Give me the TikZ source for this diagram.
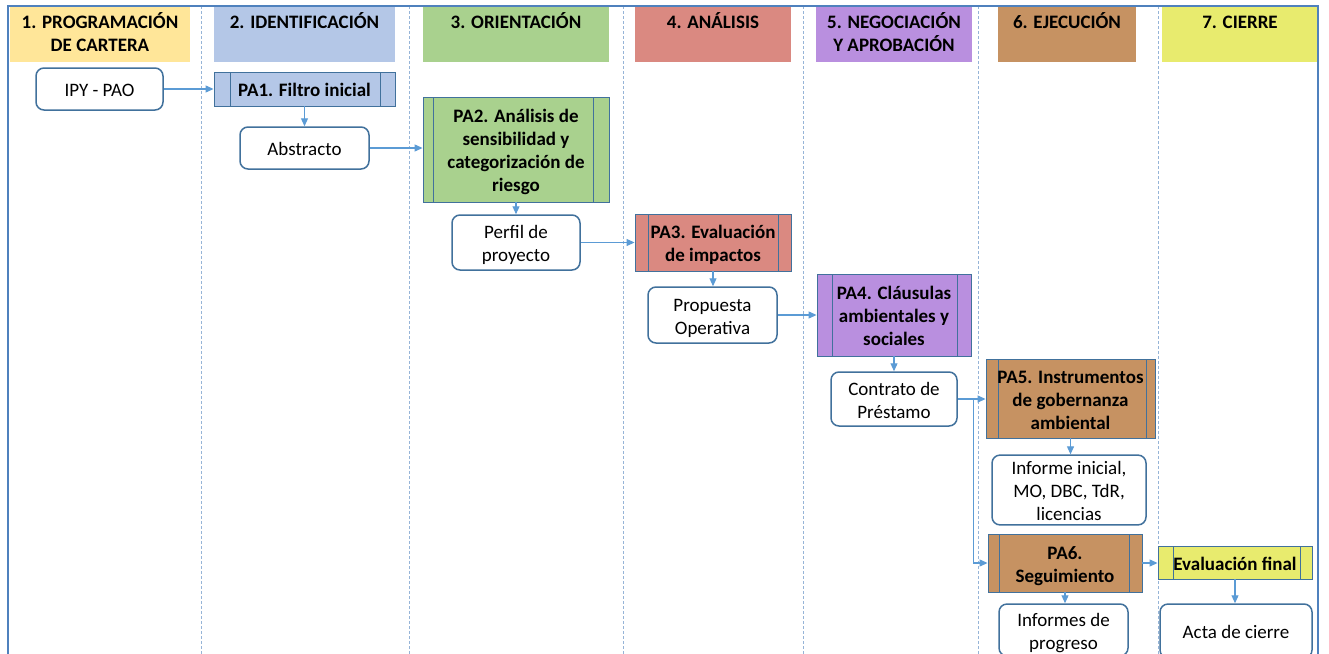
\documentclass[tikz,border=0pt]{standalone}
\usepackage{fontspec}
\setmainfont{Carlito}
\usetikzlibrary{arrows.meta,calc}
\definecolor{frameblue}{RGB}{79,129,189}
\definecolor{boxline}{RGB}{65,113,156}
\definecolor{arrowblue}{RGB}{91,155,213}
\definecolor{sepcol}{RGB}{150,180,215}
\definecolor{cOne}{RGB}{255,230,153}
\definecolor{cTwo}{RGB}{180,199,231}
\definecolor{cThree}{RGB}{169,209,142}
\definecolor{cFour}{RGB}{218,137,129}
\definecolor{cFive}{RGB}{185,143,223}
\definecolor{cSix}{RGB}{198,146,98}
\definecolor{cSeven}{RGB}{232,235,110}
\newcommand\wt{\rule{0pt}{19.5pt}}
\newcommand\wb{\rule[-4.3pt]{0pt}{4.3pt}}
\tikzset{
  every node/.style={font=\fontsize{19}{23}\selectfont, inner sep=0pt},
  header/.style={fill=#1, draw=none, minimum height=56pt},
  headtext/.style={anchor=north, align=center, font=\fontsize{19}{23}\selectfont\bfseries},
  docbox/.style 2 args={draw=boxline, line width=1.5pt, rounded corners=8pt, fill=white,
     minimum width=#1, minimum height=#2, align=center},
  procbox/.style n args={5}{draw=boxline, line width=0.9pt, fill=#1, minimum width=#2, minimum height=#3,
     align=center, font=\fontsize{19}{23}\selectfont\bfseries,
     path picture={\draw[boxline, line width=0.9pt]
        ([xshift=#4]path picture bounding box.north west) -- ([xshift=#4]path picture bounding box.south west)
        ([xshift=-#5]path picture bounding box.north east) -- ([xshift=-#5]path picture bounding box.south east);}},
  arr/.style={draw=arrowblue, line width=1.1pt, -{Triangle[length=8pt,width=7pt]}},
  sep/.style={draw=sepcol, line width=0.9pt, dash pattern=on 3pt off 2pt},
  frame/.style={draw=frameblue, line width=1.8pt}
}
\begin{document}
\begin{tikzpicture}[x=1pt,y=-1pt]
\useasboundingbox (0,0) rectangle (1329,653);
\clip (0,0) rectangle (1329,653);
\fill[white] (0,0) rectangle (1329,653);
% header bands
\node[header=cOne, minimum width=180pt] (h1) at (100,34) {};
\node[header=cTwo, minimum width=181pt] (h2) at (304.5,34) {};
\node[header=cThree, minimum width=186pt] (h3) at (516,34) {};
\node[header=cFour, minimum width=156pt] (h4) at (713,34) {};
\node[header=cFive, minimum width=156pt] (h5) at (894,34) {};
\node[header=cSix, minimum width=138pt] (h6) at (1067,34) {};
\node[header=cSeven, minimum width=156pt] (h7) at (1240,34) {};
% header texts
\node[headtext] (t1) at (100,9) {\wt 1. PROGRAMACIÓN\\DE CARTERA\wb};
\node[headtext] (t2) at (304.5,9) {\wt 2. IDENTIFICACIÓN\wb};
\node[headtext] (t3) at (516,9) {\wt 3. ORIENTACIÓN\wb};
\node[headtext] (t4) at (713,9) {\wt 4. ANÁLISIS\wb};
\node[headtext] (t5) at (894,9) {\wt 5. NEGOCIACIÓN\\Y APROBACIÓN\wb};
\node[headtext] (t6) at (1067,9) {\wt 6. EJECUCIÓN\wb};
\node[headtext] (t7) at (1240,9) {\wt 7. CIERRE\wb};
% separators
\foreach \sx in {201,409,623,803,978,1158} \draw[sep] (\sx,6) -- (\sx,660);
% frame
\draw[frame] (8,700) -- (8,6) -- (1318,6) -- (1318,700);
% nodes
\node[docbox={127pt}{42pt}] (ipy) at (99.5,89) {\wt IPY - PAO\wb};
\node[procbox={cTwo}{181pt}{34pt}{16pt}{15pt}] (pa1) at (304.5,89) {\wt PA1. Filtro inicial\wb};
\node[docbox={129pt}{42pt}] (abs) at (304.5,148) {\wt Abstracto\wb};
\node[procbox={cThree}{186pt}{105pt}{10pt}{16pt}] (pa2) at (516,149.5) {\wt PA2. Análisis de\\sensibilidad y\\categorización de\\riesgo\wb};
\node[docbox={128pt}{55pt}] (per) at (516,242.5) {\wt Perfil de\\proyecto\wb};
\node[procbox={cFour}{156pt}{57pt}{13pt}{13pt}] (pa3) at (713,242.5) {\wt PA3. Evaluación\\de impactos\wb};
\node[docbox={129pt}{56pt}] (pro) at (712.5,315) {\wt Propuesta\\Operativa\wb};
\node[procbox={cFive}{154pt}{82pt}{15pt}{14pt}] (pa4) at (894,315) {\wt PA4. Cláusulas\\ambientales y\\sociales\wb};
\node[docbox={126pt}{54pt}] (con) at (894,399) {\wt Contrato de\\Préstamo\wb};
\node[procbox={cSix}{169pt}{79pt}{12pt}{9pt}] (pa5) at (1070.5,398.5) {\wt PA5. Instrumentos\\de gobernanza\\ambiental\wb};
\node[docbox={154pt}{66pt}] (inf) at (1069,490) {\wt Informe inicial,\\MO, DBC, TdR,\\licencias\wb};
\node[procbox={cSix}{154pt}{58pt}{11pt}{13pt}] (pa6) at (1065,563) {\wt PA6.\\Seguimiento\wb};
\node[procbox={cSeven}{154pt}{33pt}{15pt}{12pt}] (eva) at (1235,562.5) {\wt Evaluación final\wb};
\node[docbox={129pt}{52pt}] (prg) at (1063.5,630) {\wt Informes de\\progreso\wb};
\node[docbox={152pt}{54pt}] (act) at (1236,631) {\wt Acta de cierre\wb};
% connectors
\draw[arr] (ipy.east) -- (pa1.west);
\draw[arr] (pa1.south) -- (abs.north);
\draw[arr] (abs.east) -- (abs.east -| pa2.west);
\draw[arr] (pa2.south) -- (per.north);
\draw[arr] (per.east) -- (pa3.west);
\draw[arr] (pa3.south) -- (pa3.south |- pro.north);
\draw[arr] (pro.east) -- (pa4.west);
\draw[arr] (pa4.south) -- (con.north);
\draw[arr] (con.east) -- (con.east -| pa5.west);
\draw[arr] (con.east) -- ++(16,0) |- (pa6.west);
\draw[arr] (pa5.south) -- (pa5.south |- inf.north);
\draw[arr] (pa6.east) -- (pa6.east -| eva.west);
\draw[arr] (pa6.south) -- (pa6.south |- prg.north);
\draw[arr] (eva.south) -- (eva.south |- act.north);
\end{tikzpicture}
\end{document}
